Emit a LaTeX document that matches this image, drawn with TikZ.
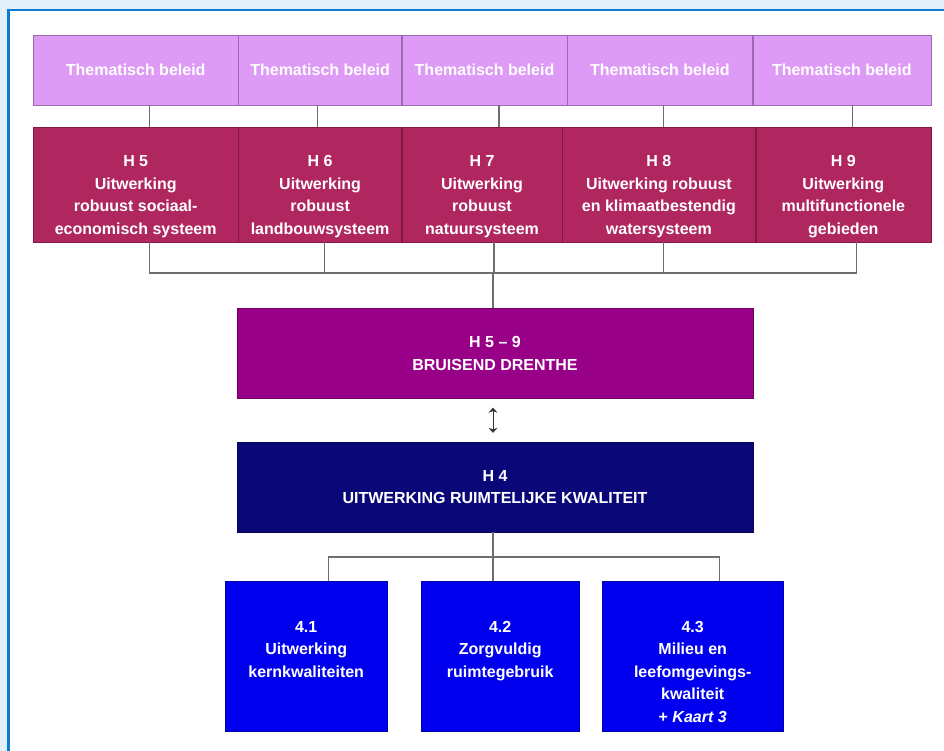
\documentclass[tikz,border=0pt]{standalone}
\usepackage{fontspec}
\setmainfont{Liberation Sans}
\usetikzlibrary{positioning,arrows.meta}

\definecolor{lila}{HTML}{DE9BF6}
\definecolor{lilarand}{HTML}{9A6AAE}
\definecolor{bordeaux}{HTML}{B0265E}
\definecolor{bordeauxrand}{HTML}{7E1A44}
\definecolor{paars}{HTML}{990088}
\definecolor{donkerblauw}{HTML}{0A0878}
\definecolor{felblauw}{HTML}{0000EE}
\definecolor{lijn}{HTML}{6E6E6E}
\definecolor{kader}{HTML}{0B7BCF}
\definecolor{achtergrond}{HTML}{E3F0FA}

\tikzset{
  tekst/.style={text=white, align=center, inner sep=0pt, font=\bfseries\fontsize{16}{22.5}\selectfont},
  thema/.style={tekst, draw=lilarand, fill=lila, minimum height=70pt},
  hbox/.style={draw=bordeauxrand, fill=bordeaux, minimum height=115pt, inner sep=0pt},
  breed/.style={tekst, minimum width=516pt, minimum height=90pt},
  kwal/.style={draw=felblauw!70!black, fill=felblauw, minimum height=150pt, inner sep=0pt},
  verbind/.style={draw=lijn, line width=1.2pt},
  pijl/.style={draw=black!80, line width=1pt, {Stealth[length=5pt,width=9pt]}-{Stealth[length=5pt,width=9pt]}}
}

\begin{document}
\begin{tikzpicture}[x=1pt, y=-1pt]

  \useasboundingbox (0,0) rectangle (944,751);
  \fill[achtergrond] (0,0) rectangle (944,751);
  \fill[white] (8.5,10) rectangle (950,760);
  \draw[kader, line width=2.5pt] (950,10) -- (8.5,10) -- (8.5,760);

  % thematisch beleid
  \node (T1) [thema, minimum width=205pt, anchor=north west] at (33,35) {Thematisch beleid};
  \node (T2) [thema, minimum width=163pt, right=0pt of T1] {Thematisch beleid};
  \node (T3) [thema, minimum width=165pt, right=0pt of T2] {Thematisch beleid};
  \node (T4) [thema, minimum width=185pt, right=0pt of T3] {Thematisch beleid};
  \node (T5) [thema, minimum width=178pt, right=0pt of T4] {Thematisch beleid};

  % hoofdstukken 5 t/m 9
  \node (H5) [hbox, minimum width=205pt, anchor=north west] at (33,127) {};
  \node (H6) [hbox, minimum width=163pt, right=0pt of H5] {};
  \node (H7) [hbox, minimum width=160pt, right=0pt of H6] {};
  \node (H8) [hbox, minimum width=193pt, right=0pt of H7] {};
  \node (H9) [hbox, minimum width=175pt, right=0pt of H8] {};

  \node (H5t) [tekst] at ([yshift=-12pt]H5.center) {H 5\\Uitwerking\\robuust sociaal-\\economisch systeem};
  \node (H6t) [tekst] at ([yshift=-12pt]H6.center) {H 6\\Uitwerking\\robuust\\landbouwsysteem};
  \node (H7t) [tekst] at ([yshift=-12pt]H7.center) {H 7\\Uitwerking\\robuust\\natuursysteem};
  \node (H8t) [tekst] at ([yshift=-12pt]H8.center) {H 8\\Uitwerking robuust\\en klimaatbestendig\\watersysteem};
  \node (H9t) [tekst] at ([yshift=-12pt]H9.center) {H 9\\Uitwerking\\multifunctionele\\gebieden};

  % bruisend drenthe en ruimtelijke kwaliteit
  \node (BD) [breed, fill=paars, draw=paars!70!black] at (495,353.5) {H 5 -- 9\\BRUISEND DRENTHE};
  \node (H4) [breed, fill=donkerblauw, draw=donkerblauw!70!black] at (495,487) {H 4\\UITWERKING RUIMTELIJKE KWALITEIT};

  % paragrafen 4.1 t/m 4.3
  \node (K41) [kwal, minimum width=162pt, anchor=north west] at (225,581) {};
  \node (K42) [kwal, minimum width=158pt, anchor=north west] at (421,581) {};
  \node (K43) [kwal, minimum width=181pt, anchor=north west] at (602,581) {};

  \node (K41t) [tekst, anchor=north] at ([yshift=-40pt]K41.north) {4.1\\Uitwerking\\kernkwaliteiten};
  \node (K42t) [tekst, anchor=north] at ([yshift=-40pt]K42.north) {4.2\\Zorgvuldig\\ruimtegebruik};
  \node (K43t) [tekst, anchor=north] at ([yshift=-40pt]K43.north) {4.3\\Milieu en\\leefomgevings-\\kwaliteit\\+ \textit{Kaart 3}};

  \coordinate (busboven) at (493,273);
  \coordinate (busonder) at (493,557);

  % verbindingen
  \draw[verbind] ([xshift=13.5pt]T1.south) -- ([xshift=13.5pt]T1.south |- H5.north);
  \draw[verbind] ([xshift=-2.5pt]T2.south) -- ([xshift=-2.5pt]T2.south |- H6.north);
  \draw[verbind] ([xshift=14.5pt]T3.south) -- ([xshift=14.5pt]T3.south |- H7.north);
  \draw[verbind] ([xshift=3.5pt]T4.south) -- ([xshift=3.5pt]T4.south |- H8.north);
  \draw[verbind] ([xshift=11pt]T5.south) -- ([xshift=11pt]T5.south |- H9.north);

  \draw[verbind] ([xshift=13.5pt]H5.south) |- (busboven);
  \draw[verbind] ([xshift=13.5pt]H9.south) |- (busboven);
  \draw[verbind] ([xshift=4.5pt]H6.south) -- ([xshift=4.5pt]H6.south |- busboven);
  \draw[verbind] ([xshift=12pt]H7.south) -- ([xshift=12pt]H7.south |- busboven);
  \draw[verbind] ([xshift=4.5pt]H8.south) -- ([xshift=4.5pt]H8.south |- busboven);
  \draw[verbind] (busboven) -- (busboven |- BD.north);

  \draw[pijl] ([xshift=-2pt, yshift=-9pt]BD.south) -- ([xshift=-2pt, yshift=9pt]H4.north);

  \draw[verbind] (busonder |- H4.south) -- (busonder);
  \draw[verbind] (busonder) -| ([xshift=22pt]K41.north);
  \draw[verbind] (busonder) -| ([xshift=26.5pt]K43.north);
  \draw[verbind] (busonder) -- (busonder |- K42.north);

\end{tikzpicture}
\end{document}
